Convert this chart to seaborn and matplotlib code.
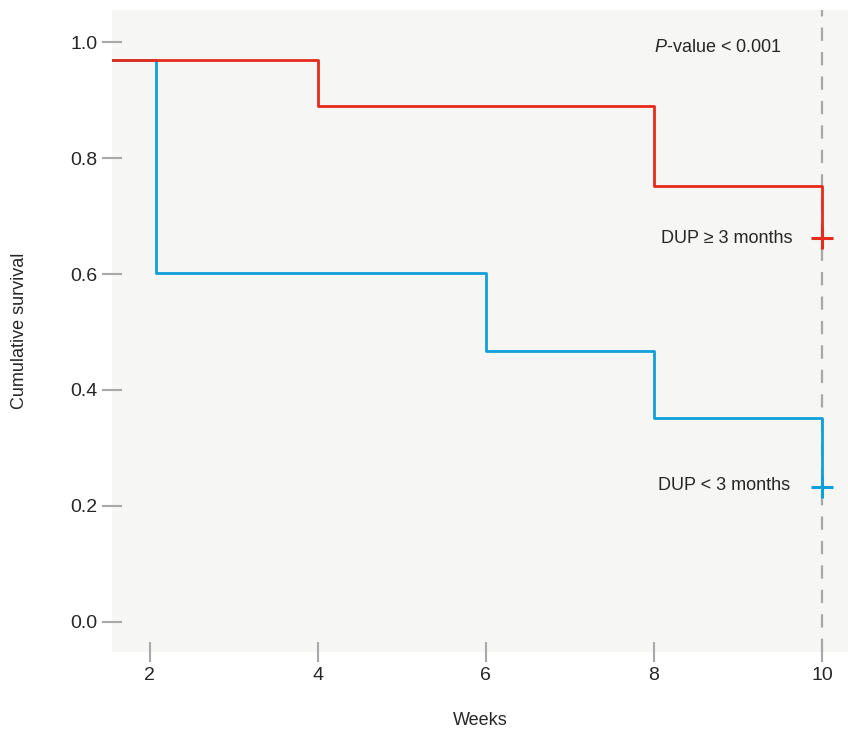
import pandas as pd
import matplotlib.pyplot as plt
import seaborn as sns

# survival step data
weeks_long = [0, 4, 8, 10]
surv_long = [0.97, 0.889, 0.752, 0.662]
weeks_short = [0, 2.07, 6, 8, 10]
surv_short = [0.97, 0.601, 0.467, 0.352, 0.233]

label_long = 'DUP ≥ 3 months'
label_short = 'DUP < 3 months'
red = '#e62b1c'
blue = '#119fd9'

df_long = pd.DataFrame({'Weeks': weeks_long, 'Survival': surv_long})
df_short = pd.DataFrame({'Weeks': weeks_short, 'Survival': surv_short})

sns.set_style('white')
plt.rcParams['font.family'] = ['Liberation Sans', 'DejaVu Sans']
plt.rcParams['mathtext.fontset'] = 'custom'
plt.rcParams['mathtext.it'] = 'Liberation Sans:italic'
plt.rcParams['mathtext.rm'] = 'Liberation Sans'

fig = plt.figure(figsize=(8.48, 7.31), dpi=100)
ax = fig.add_axes([0.132, 0.108, 0.868, 0.878])
ax.set_facecolor('#f6f6f4')

sns.lineplot(data=df_short, x='Weeks', y='Survival', drawstyle='steps-post',
             estimator=None, sort=False, color=blue, linewidth=2.0, ax=ax)
sns.lineplot(data=df_long, x='Weeks', y='Survival', drawstyle='steps-post',
             estimator=None, sort=False, color=red, linewidth=2.0, ax=ax)

# censor marks
ax.plot(weeks_short[-1], surv_short[-1], marker='+', color=blue, markersize=16, mew=2.2)
ax.plot(weeks_long[-1], surv_long[-1], marker='+', color=red, markersize=16, mew=2.2)

ax.axvline(10, color='#a8a8a8', linestyle=(0, (6, 5)), linewidth=1.6, zorder=0)

ax.text(9.52, 0.99, r'$P$-value < 0.001', ha='right', va='center', fontsize=13)
ax.text(9.65, surv_long[-1], label_long, ha='right', va='center', fontsize=13)
ax.text(9.62, 0.236, label_short, ha='right', va='center', fontsize=13)

ax.set_xlim(1.55, 10.31)
ax.set_ylim(-0.052, 1.055)
ax.set_xticks([2, 4, 6, 8, 10])
ax.set_yticks([0.0, 0.2, 0.4, 0.6, 0.8, 1.0])
ax.set_yticklabels(['0.0', '0.2', '0.4', '0.6', '0.8', '1.0'])
ax.tick_params(axis='both', direction='inout', length=14, width=1.5, color='#a8a8a8',
               labelsize=14, left=True, bottom=True)
ax.tick_params(axis='x', pad=4)
for s in ax.spines.values():
    s.set_visible(False)

ax.set_xlabel('Weeks', fontsize=13, labelpad=20)
ax.set_ylabel('Cumulative survival', fontsize=13, labelpad=30)

fig.savefig('out.png', dpi=100)
